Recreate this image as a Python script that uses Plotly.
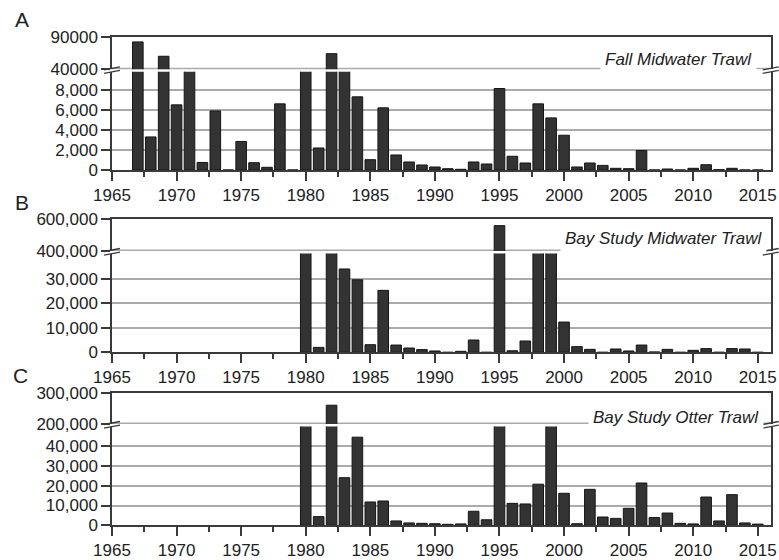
import plotly.graph_objects as go

# ---------------- data ----------------
years_fmwt = list(range(1967, 2016))
fmwt = [82000, 3300, 60000, 6500, 38000, 750, 5900, 0, 2850, 730,
        270, 6600, 0, 38000, 2200, 64000, 38000, 7300, 1030, 6200,
        1500, 800, 500, 300, 130, 70, 800, 600, 8130, 1370,
        700, 6600, 5200, 3470, 300, 700, 460, 170, 130, 1950,
        0, 100, 0, 170, 530, 30, 170, 0, 0]

years_bay = list(range(1980, 2016))
bs_mwt = [380000, 2000, 380000, 33900, 29500, 3100, 25200, 2950, 1750, 1100,
          540, 0, 400, 5000, 0, 560000, 620, 4600, 380000, 380000,
          12300, 2300, 1200, 0, 1350, 540, 2950, 150, 1200, 0,
          800, 1500, 0, 1500, 1350, 0]
bs_ot = [190000, 4400, 260000, 24100, 44600, 11800, 12300, 2200, 1200, 1000,
         800, 500, 700, 7100, 2800, 190000, 11100, 10800, 20800, 190000,
         16200, 800, 18200, 4200, 3500, 8600, 21400, 3900, 6200, 1000,
         700, 14300, 2200, 15500, 1200, 600]

panel_letters = ["A", "B", "C"]
panel_titles = ["Fall Midwater Trawl", "Bay Study Midwater Trawl", "Bay Study Otter Trawl"]

low_ticks = [[0, 2000, 4000, 6000, 8000],
             [0, 10000, 20000, 30000],
             [0, 10000, 20000, 30000, 40000]]
low_text = [["0", "2,000", "4,000", "6,000", "8,000"],
            ["0", "10,000", "20,000", "30,000"],
            ["0", "10,000", "20,000", "30,000", "40,000"]]
up_ticks = [[40000, 90000], [400000, 600000], [200000, 300000]]
up_text = [["40000", "90000"], ["400,000", "600,000"], ["200,000", "300,000"]]
low_top = [9800, 40200, 50000]

x_ticks = list(range(1965, 2016, 5))

# ---------------- layout geometry (pixels) ----------------
W, H = 779, 560
X_LEFT, X_RIGHT = 112.0, 770.7
# (top, break, bottom) in pixels for each panel
geom = [(36.7, 69.3, 170.0), (219.3, 251.0, 352.3), (392.7, 424.0, 525.3)]
GAP = 2.5
letter_pos = [(22, 20), (22, 202), (20, 375)]
title_pos = [(757, 60), (767, 238), (764, 417)]

BAR = "#333333"
BAR_LINE = "#151515"
AX = "#3a3a3a"
GRID = "#ababab"
FONT = "Liberation Sans, Arial, sans-serif"

def py(p):
    return 1 - p / H

def pxx(p):
    return p / W

series = [(years_fmwt, fmwt), (years_bay, bs_mwt), (years_bay, bs_ot)]

fig = go.Figure()
layout = dict(
    width=W, height=H, margin=dict(l=0, r=0, t=0, b=0, autoexpand=False),
    paper_bgcolor="white", plot_bgcolor="rgba(0,0,0,0)",
    font=dict(family=FONT, size=17, color="#222"),
    showlegend=False, shapes=[], annotations=[],
)

xdom = [pxx(X_LEFT), pxx(X_RIGHT)]
for i, (yrs, vals) in enumerate(series):
    top, brk, bot = geom[i]
    lo = 2 * i + 1
    up = 2 * i + 2
    lo_s = "" if lo == 1 else str(lo)
    up_s = str(up)
    for n, ysfx in ((lo, lo_s), (up, up_s)):
        fig.add_trace(go.Bar(
            x=yrs, y=vals, width=0.82,
            xaxis="x" + ysfx, yaxis="y" + ysfx,
            marker=dict(color=BAR, line=dict(color=BAR_LINE, width=1)),
            hoverinfo="x+y",
        ))
    # lower x axis
    layout["xaxis" + lo_s] = dict(
        domain=xdom, anchor="y" + lo_s, range=[1965, 2016],
        tickvals=x_ticks, ticktext=[str(v) for v in x_ticks],
        ticks="outside", ticklen=9, tickwidth=1.5, tickcolor=AX,
        showline=True, linecolor=AX, linewidth=1.5, showgrid=False,
        zeroline=False, ticklabelstandoff=0, automargin=False,
        minor=dict(dtick=2.5, tick0=1965, ticks="outside", ticklen=5,
                   tickwidth=1.5, tickcolor=AX, showgrid=False),
        fixedrange=True,
    )
    # upper x axis (top border only)
    layout["xaxis" + up_s] = dict(
        domain=xdom, anchor="y" + up_s, range=[1965, 2016], side="top",
        showticklabels=False, ticks="", showline=True, linecolor=AX,
        linewidth=1.5, showgrid=False, zeroline=False, fixedrange=True,
        automargin=False,
    )
    # lower y axis
    layout["yaxis" + lo_s] = dict(
        domain=[py(bot), py(brk + GAP)], anchor="x" + lo_s,
        range=[0, low_top[i]], tickvals=low_ticks[i], ticktext=low_text[i],
        ticks="outside", ticklen=9, tickwidth=1.5, tickcolor=AX,
        showline=True, mirror=True, linecolor=AX, linewidth=1.5,
        showgrid=True, gridcolor=GRID, gridwidth=1.5, zeroline=False,
        fixedrange=True, automargin=False,
    )
    # upper y axis
    layout["yaxis" + up_s] = dict(
        domain=[py(brk), py(top)], anchor="x" + up_s,
        range=[up_ticks[i][0], up_ticks[i][1]], tickvals=up_ticks[i],
        ticktext=up_text[i], ticks="outside", ticklen=9, tickwidth=1.5,
        tickcolor=AX, showline=True, mirror=True, linecolor=AX,
        linewidth=1.5, showgrid=False, zeroline=False, fixedrange=True,
        automargin=False,
    )
    # break gridline
    layout["shapes"].append(dict(
        type="line", xref="paper", yref="paper", layer="below",
        x0=pxx(X_LEFT), x1=pxx(X_RIGHT), y0=py(brk - 0.8), y1=py(brk - 0.8),
        line=dict(color=GRID, width=1.5),
    ))
    # break markers on both sides
    for xc in (X_LEFT, X_RIGHT):
        for dy in (-1.8, 1.8):
            layout["shapes"].append(dict(
                type="line", xref="paper", yref="paper", layer="above",
                x0=pxx(xc - 8), x1=pxx(xc + 8),
                y0=py(brk + 0.8 + dy + 1.5), y1=py(brk + 0.8 + dy - 1.5),
                line=dict(color=AX, width=1.3),
            ))
    # panel letter
    lx, ly = letter_pos[i]
    layout["annotations"].append(dict(
        text=panel_letters[i], xref="paper", yref="paper",
        x=pxx(lx), y=py(ly), xanchor="center", yanchor="middle",
        showarrow=False, font=dict(size=21, color="#222", family=FONT),
    ))
    # panel title
    tx, ty = title_pos[i]
    layout["annotations"].append(dict(
        text="<i>" + panel_titles[i] + "</i>", xref="paper", yref="paper",
        x=pxx(tx), y=py(ty), xanchor="right", yanchor="middle",
        showarrow=False, bgcolor="white", borderpad=4,
        font=dict(size=17, color="#222", family=FONT),
    ))

fig.update_layout(**layout)
fig.write_html(
    "out.html",
    config={"displayModeBar": False},
    post_script="document.body.style.margin='0';document.body.style.padding='0';",
)
